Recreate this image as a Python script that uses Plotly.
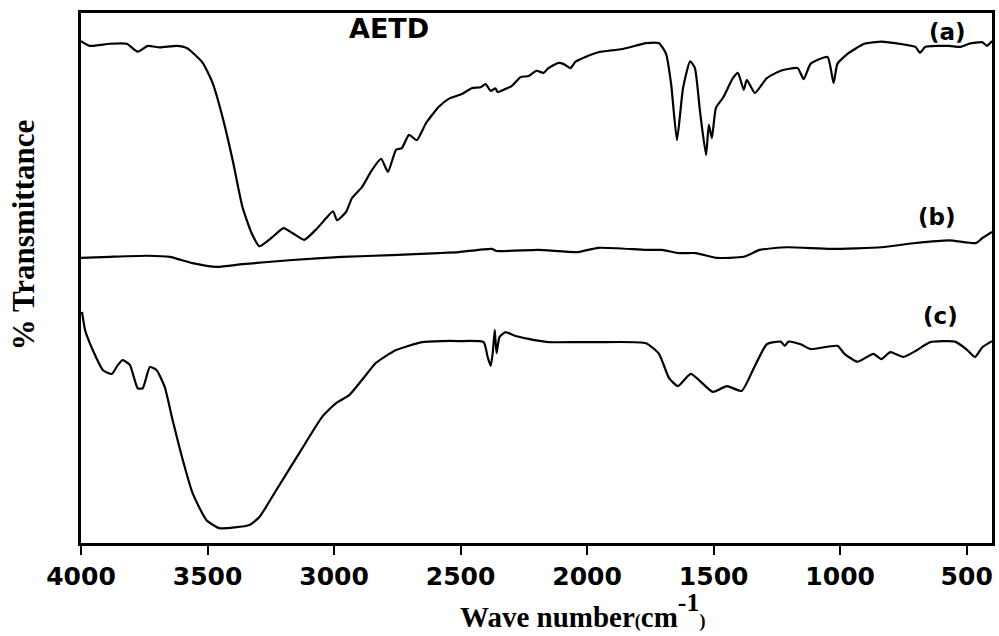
import plotly.graph_objects as go

# ---- data (wavenumber in cm^-1, transmittance in arbitrary % units) ----
wn_a = [4000, 3965, 3886, 3819, 3776, 3736, 3689, 3622, 3582, 3519, 3480, 3441, 3401, 3362, 3326,
        3295, 3244, 3200, 3165, 3118, 3070, 3031, 3004, 2988, 2952, 2929, 2889, 2850, 2814, 2787,
        2755, 2732, 2704, 2673, 2637, 2586, 2547, 2495, 2456, 2421, 2401, 2381, 2362, 2354, 2322,
        2298, 2263, 2231, 2200, 2172, 2153, 2113, 2094, 2066, 2046, 2007, 1956, 1861, 1767, 1716,
        1688, 1668, 1645, 1621, 1593, 1574, 1554, 1530, 1519, 1507, 1491, 1463, 1424, 1404, 1381,
        1369, 1337, 1290, 1235, 1168, 1144, 1117, 1050, 1026, 1011, 971, 904, 837, 782, 703,
        684, 664, 569, 526, 491, 439, 420, 400]
t_a = [94.7, 93.8, 94.2, 94.2, 92.7, 93.8, 93.5, 93.8, 93.4, 90.6, 86.8, 80.4, 72.3, 63.4, 58.5,
       56.0, 57.7, 59.4, 58.5, 57.2, 59.2, 61.3, 62.6, 60.9, 62.5, 65.1, 67.2, 70.4, 72.5, 70.0,
       74.2, 74.5, 77.0, 76.0, 79.2, 82.3, 83.8, 84.7, 85.8, 86.0, 86.6, 85.3, 85.8, 85.1, 85.7,
       86.2, 87.9, 88.1, 89.1, 88.7, 89.6, 90.6, 90.4, 89.6, 90.8, 91.7, 92.6, 93.2, 94.3, 94.3,
       92.3, 86.6, 76.0, 85.8, 90.9, 89.6, 81.5, 73.2, 78.9, 76.4, 82.1, 84.0, 87.7, 88.7, 85.5,
       87.4, 84.9, 87.7, 89.1, 89.6, 87.5, 90.4, 91.7, 86.8, 90.4, 92.3, 94.2, 94.6, 94.3, 93.6,
       92.5, 93.6, 93.8, 93.6, 94.2, 94.5, 93.8, 94.7]

wn_b = [4000, 3886, 3740, 3649, 3559, 3464, 3362, 3165, 2968, 2771, 2586, 2507, 2377, 2358, 2192,
        2035, 1956, 1767, 1704, 1637, 1570, 1491, 1381, 1318, 1211, 1038, 837, 703, 569, 463,
        439, 400]
t_b = [53.8, 54.0, 54.2, 54.0, 52.8, 52.1, 52.6, 53.4, 54.0, 54.3, 54.7, 54.9, 55.5, 55.1, 55.3,
       54.9, 55.7, 55.3, 55.3, 54.7, 54.7, 53.8, 54.0, 55.3, 55.8, 55.5, 55.8, 56.6, 57.1, 56.6,
       57.5, 58.7]

wn_c = [3996, 3984, 3957, 3913, 3878, 3854, 3835, 3807, 3776, 3756, 3728, 3701, 3669, 3638, 3598,
        3559, 3504, 3453, 3334, 3295, 3228, 3137, 3047, 2992, 2940, 2889, 2834, 2755, 2653, 2574,
        2507, 2409, 2393, 2381, 2373, 2365, 2358, 2346, 2322, 2291, 2232, 2153, 2035, 1956, 1767,
        1716, 1676, 1641, 1590, 1503, 1448, 1389, 1341, 1290, 1235, 1219, 1204, 1156, 1117, 1011,
        983, 932, 869, 837, 802, 751, 703, 644, 546, 502, 467, 439, 400]
t_c = [43.6, 40.2, 36.8, 32.6, 31.9, 33.6, 34.5, 33.6, 29.2, 29.2, 33.2, 32.6, 29.4, 23.2, 15.7,
       9.4, 4.3, 2.8, 3.4, 4.9, 10.0, 17.0, 23.8, 26.4, 27.9, 30.8, 34.0, 36.4, 37.9, 38.1,
       38.1, 37.9, 35.1, 33.4, 35.8, 40.2, 35.8, 38.9, 39.8, 39.2, 38.5, 37.9, 37.9, 37.9, 37.7,
       35.7, 31.1, 29.6, 31.9, 28.5, 29.6, 28.7, 33.0, 37.5, 38.0, 37.2, 38.0, 37.5, 36.6, 37.2,
       35.7, 34.2, 35.7, 34.7, 36.0, 35.1, 36.2, 37.9, 38.0, 36.6, 35.1, 36.9, 38.1]

tick_vals = [4000, 3500, 3000, 2500, 2000, 1500, 1000, 500]
tick_text = ["4000", "3500", "3000", "2500", "2000", "1500", "1000", "500"]

fig = go.Figure()
for wn, t in [(wn_a, t_a), (wn_b, t_b), (wn_c, t_c)]:
    fig.add_trace(go.Scatter(x=wn, y=t, mode="lines",
                             line=dict(color="black", width=2.2, shape="spline", smoothing=0.5),
                             showlegend=False, hoverinfo="skip"))

ann_font = dict(family="DejaVu Sans", size=23, color="black", weight="bold")

xtitle = ("<span style='font-size:29px'>Wave number</span>"
          "<span style='font-size:18px'>(</span>"
          "<span style='font-size:29px'>cm</span>"
          "<sup>-1</sup>"
          "<span style='font-size:18px'>)</span>")

fig.update_layout(
    width=999, height=636,
    margin=dict(l=81, r=4, t=13, b=93),
    paper_bgcolor="white", plot_bgcolor="white",
    xaxis=dict(range=[4000, 400], tickvals=tick_vals, ticktext=tick_text,
               showgrid=False, zeroline=False, showline=True, linecolor="black",
               linewidth=2.5, mirror=True, ticks="outside", ticklen=9, tickwidth=2,
               tickcolor="black",
               tickfont=dict(family="DejaVu Sans", size=25, color="black", weight="bold")),
    yaxis=dict(range=[0, 100], showticklabels=False, showgrid=False, zeroline=False,
               showline=True, linecolor="black", linewidth=2.5, mirror=True, ticks=""),
    annotations=[
        dict(text="AETD", x=0.338, y=0.970, xref="paper", yref="paper", showarrow=False,
             xanchor="center", yanchor="middle",
             font=dict(family="DejaVu Sans", size=27, color="black", weight="bold")),
        dict(text="(a)", x=0.951, y=0.964, xref="paper", yref="paper", showarrow=False,
             xanchor="center", yanchor="middle", font=ann_font),
        dict(text="(b)", x=0.940, y=0.615, xref="paper", yref="paper", showarrow=False,
             xanchor="center", yanchor="middle", font=ann_font),
        dict(text="(c)", x=0.944, y=0.428, xref="paper", yref="paper", showarrow=False,
             xanchor="center", yanchor="middle", font=ann_font),
        dict(text="% Transmittance", x=-0.0635, y=0.581, xref="paper", yref="paper",
             showarrow=False, textangle=-90, xanchor="center", yanchor="middle",
             font=dict(family="Liberation Serif", size=31, color="black", weight="bold")),
        dict(text=xtitle, x=0.551, y=-0.127, xref="paper", yref="paper", showarrow=False,
             xanchor="center", yanchor="middle",
             font=dict(family="Liberation Serif", size=37, color="black", weight="bold")),
    ],
)

fig.write_html("out.html", config={"displayModeBar": False},
               post_script="document.body.style.margin='0';document.body.style.overflow='hidden';")
